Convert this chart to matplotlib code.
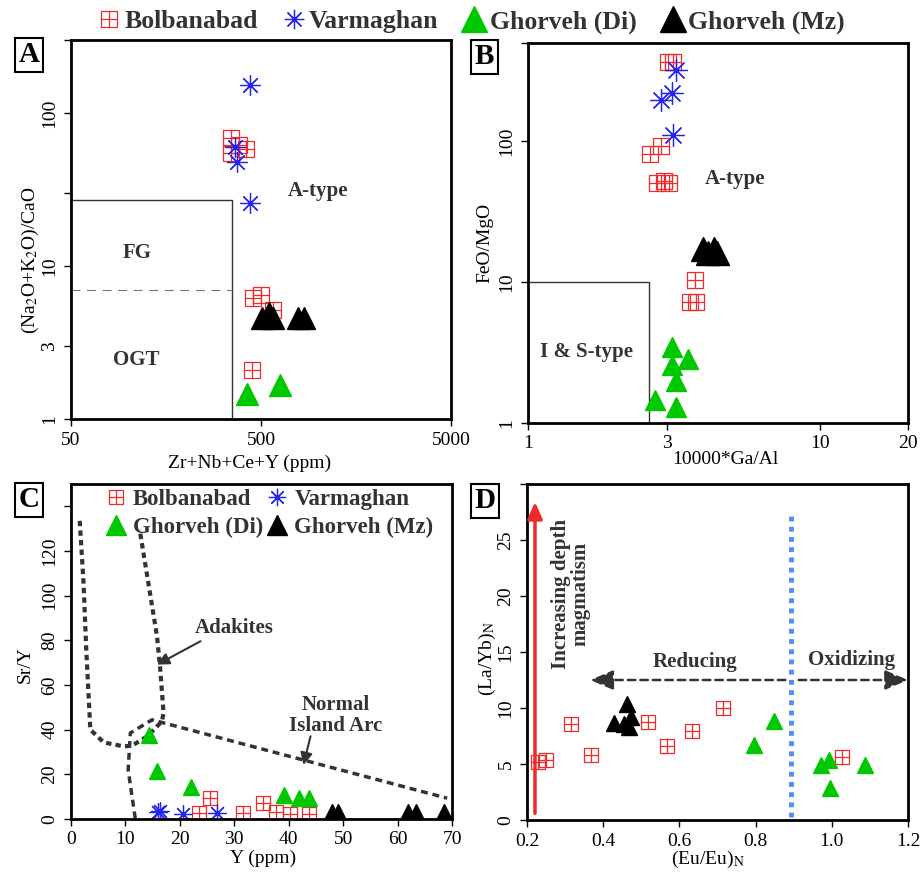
import matplotlib.pyplot as plt
from matplotlib.lines import Line2D
from matplotlib.legend_handler import HandlerTuple
from matplotlib.ticker import NullLocator

plt.rcParams['font.family'] = ['Liberation Serif', 'DejaVu Serif']
plt.rcParams['mathtext.fontset'] = 'stix'

RED = '#ee2a2a'
BLUE = '#2424f0'
GREEN = '#00c800'
BLACK = '#000000'
TXT = '#333333'

groups = ['Bolbanabad', 'Varmaghan', 'Ghorveh (Di)', 'Ghorveh (Mz)']

# A: (Na2O+K2O)/CaO vs Zr+Nb+Ce+Y
a_bol_x = [346, 346, 382, 416, 453, 500, 580, 448]
a_bol_y = [69, 55, 62, 58, 6.2, 6.5, 5.2, 2.1]
a_var_x = [436, 367, 376, 436]
a_var_y = [152, 60, 48, 26]
a_di_x = [422, 627]
a_di_y = [1.46, 1.68]
a_mz_x = [506, 548, 578, 783, 839]
a_mz_y = [4.6, 4.9, 4.6, 4.6, 4.6]
a_box_x = [50, 350, 350]
a_box_y = [27, 27, 1]
a_dash_x = [50, 350]
a_dash_y = [7, 7]

# B: FeO/MgO vs 10000*Ga/Al
b_bol_x = [3.02, 3.14, 2.61, 2.85, 2.76, 2.92, 3.04, 3.73, 3.6, 3.75]
b_bol_y = [366, 366, 81, 92, 51, 52, 51, 10.4, 7.2, 7.2]
b_var_x = [3.22, 3.10, 2.85, 3.13]
b_var_y = [321, 222, 196, 111]
b_di_x = [3.11, 3.54, 3.11, 3.21, 2.73, 3.21]
b_di_y = [3.47, 2.85, 2.56, 1.98, 1.45, 1.29]
b_mz_x = [3.98, 4.34, 4.14, 4.42]
b_mz_y = [17.1, 17.1, 16.0, 16.0]
b_box_x = [1, 2.6, 2.6]
b_box_y = [10, 10, 1]

# C: Sr/Y vs Y
c_bol_x = [25.5, 23.5, 31.6, 35.2, 37.7, 40.3, 43.8]
c_bol_y = [9.3, 2.5, 2.8, 7.0, 3.3, 2.1, 2.1]
c_var_x = [16.0, 16.4, 20.6, 26.9]
c_var_y = [3.2, 3.6, 2.1, 2.5]
c_di_x = [14.3, 15.8, 22.1, 39.1, 41.9, 43.8]
c_di_y = [37.4, 21.7, 14.1, 10.8, 9.3, 9.6]
c_mz_x = [47.9, 49.0, 62.0, 63.3, 68.5]
c_mz_y = [3.3, 3.3, 3.3, 3.3, 3.3]
adakite_x = [1.6, 2.3, 2.8, 3.55, 6.0, 9.7, 11.2, 14.0, 16.7, 17.0, 16.4, 15.8, 14.0, 12.6]
adakite_y = [133.5, 105.8, 75.9, 40, 34.3, 32.5, 32.8, 37, 43.7, 47.4, 66.9, 81.8, 108.8, 129.7]
arc_x = [11.8, 10.5, 10.9, 14.9, 69.1]
arc_y = [0.3, 22, 38.5, 44.4, 9.3]

# D: (La/Yb)N vs (Eu/Eu)N
d_bol_x = [0.228, 0.251, 0.315, 0.368, 0.518, 0.567, 0.633, 0.714, 1.028]
d_bol_y = [5.2, 5.36, 8.57, 5.8, 8.78, 6.64, 7.95, 10.0, 5.65]
d_di_x = [0.849, 0.795, 0.972, 0.992, 0.996, 1.088]
d_di_y = [8.87, 6.7, 4.9, 5.36, 2.9, 4.9]
d_mz_x = [0.462, 0.429, 0.454, 0.473, 0.467]
d_mz_y = [10.4, 8.7, 8.6, 9.2, 8.3]
eu_limit = 0.893


def plot_bol(ax, x, y, ms):
    ax.plot(x, y, ls='none', marker='s', ms=ms, mfc='none', mec=RED, mew=0.9)
    ax.plot(x, y, ls='none', marker='+', ms=ms, mec=RED, mew=0.9)


def plot_var(ax, x, y, ms):
    ax.plot(x, y, ls='none', marker=(8, 2, 0), ms=ms, mec=BLUE, mew=0.9)


def plot_tri(ax, x, y, ms, color):
    ax.plot(x, y, ls='none', marker='^', ms=ms, mfc=color, mec=color)


def style_axes(ax):
    for s in ax.spines.values():
        s.set_linewidth(2)
    ax.tick_params(direction='out', length=5, width=1, labelsize=14, pad=4)
    ax.tick_params(axis='y', labelrotation=90)
    plt.setp(ax.get_yticklabels(), va='center')


def panel_letter(x, y, s):
    fig.text(x / 921, 1 - y / 873, s, ha='center', va='center', fontsize=21,
             fontweight='bold', bbox=dict(boxstyle='square,pad=0.12', fc='white', ec='black', lw=1.5))


fig = plt.figure(figsize=(9.21, 8.73), dpi=100)

# ---------------- A
axA = fig.add_axes([0.0771, 0.52, 0.4126, 0.4341])
axA.set_xscale('log')
axA.set_yscale('log')
axA.set_xlim(50, 5000)
axA.set_ylim(1, 300)
axA.plot(a_box_x, a_box_y, color='#333333', lw=1)
axA.plot(a_dash_x, a_dash_y, color='#777777', lw=0.8, dashes=(8, 6))
plot_bol(axA, a_bol_x, a_bol_y, 11.3)
plot_var(axA, a_var_x, a_var_y, 14.5)
plot_tri(axA, a_di_x, a_di_y, 16, GREEN)
plot_tri(axA, a_mz_x, a_mz_y, 16, BLACK)
axA.text(1000, 31, 'A-type', fontsize=15, fontweight='bold', color=TXT, ha='center', va='center')
axA.text(112, 12.2, 'FG', fontsize=15, fontweight='bold', color=TXT, ha='center', va='center')
axA.text(110, 2.43, 'OGT', fontsize=15, fontweight='bold', color=TXT, ha='center', va='center')
axA.set_xticks([50, 500, 5000])
axA.set_xticklabels(['50', '500', '5000'])
axA.set_yticks([1, 3, 10, 30, 100, 300])
axA.set_yticklabels(['1', '3', '10', '', '100', ''])
axA.xaxis.set_minor_locator(NullLocator())
axA.yaxis.set_minor_locator(NullLocator())
axA.set_xlabel('Zr+Nb+Ce+Y (ppm)', fontsize=14)
axA.set_ylabel('(Na$_2$O+K$_2$O)/CaO', fontsize=14)
axA.xaxis.set_label_coords(0.471, -0.116)
axA.yaxis.set_label_coords(-0.108, 0.42)
style_axes(axA)

# ---------------- B
axB = fig.add_axes([0.5733, 0.5155, 0.4126, 0.4353])
axB.set_xscale('log')
axB.set_yscale('log')
axB.set_xlim(1, 20)
axB.set_ylim(1, 500)
axB.plot(b_box_x, b_box_y, color='#333333', lw=1)
plot_bol(axB, b_bol_x, b_bol_y, 11.5)
plot_var(axB, b_var_x, b_var_y, 16)
plot_tri(axB, b_di_x, b_di_y, 15, GREEN)
plot_tri(axB, b_mz_x, b_mz_y, 17, BLACK)
axB.text(5.1, 54, 'A-type', fontsize=15, fontweight='bold', color=TXT, ha='center', va='center')
axB.text(1.58, 3.2, 'I & S-type', fontsize=15, fontweight='bold', color=TXT, ha='center', va='center')
axB.set_xticks([1, 3, 10, 20])
axB.set_xticklabels(['1', '3', '10', '20'])
axB.set_yticks([1, 10, 100, 500])
axB.set_yticklabels(['1', '10', '100', ''])
axB.xaxis.set_minor_locator(NullLocator())
axB.yaxis.set_minor_locator(NullLocator())
axB.set_xlabel('10000*Ga/Al', fontsize=14)
axB.set_ylabel('FeO/MgO', fontsize=14)
axB.xaxis.set_label_coords(0.518, -0.097)
axB.yaxis.set_label_coords(-0.113, 0.474)
style_axes(axB)

# ---------------- C
axC = fig.add_axes([0.0771, 0.0619, 0.4137, 0.3837])
axC.set_xlim(0, 70)
axC.set_ylim(0, 150)
axC.plot(adakite_x, adakite_y, color='#333333', lw=3, dashes=(1.3, 1.0))
axC.plot(arc_x, arc_y, color='#333333', lw=2.5, dashes=(2.0, 1.4))
plot_bol(axC, c_bol_x, c_bol_y, 9.6)
plot_var(axC, c_var_x, c_var_y, 13)
plot_tri(axC, c_di_x, c_di_y, 11, GREEN)
plot_tri(axC, c_mz_x, c_mz_y, 11, BLACK)
axC.text(29.9, 85.3, 'Adakites', fontsize=15, fontweight='bold', color=TXT, ha='center', va='center')
axC.annotate('', xy=(15.8, 69.1), xytext=(23.8, 79.6),
             arrowprops=dict(arrowstyle='-|>', color='#333333', lw=1.5, mutation_scale=18, shrinkA=0, shrinkB=0))
axC.text(48.6, 46.3, 'Normal\nIsland Arc', fontsize=15, fontweight='bold', color=TXT,
         ha='center', va='center', multialignment='center', linespacing=1.05)
axC.annotate('', xy=(42.7, 24.2), xytext=(44.0, 37.0),
             arrowprops=dict(arrowstyle='-|>', color='#333333', lw=1.5, mutation_scale=18, shrinkA=0, shrinkB=0))
axC.set_xticks(range(0, 71, 10))
axC.set_yticks(range(0, 141, 20))
axC.set_yticklabels(['0', '20', '40', '60', '80', '100', '120', ''])
axC.set_xlabel('Y (ppm)', fontsize=14)
axC.set_ylabel('Sr/Y', fontsize=14)
axC.xaxis.set_label_coords(0.504, -0.118)
axC.yaxis.set_label_coords(-0.12, 0.46)
style_axes(axC)

# ---------------- D
axD = fig.add_axes([0.5722, 0.0607, 0.4137, 0.3849])
axD.set_xlim(0.2, 1.2)
axD.set_ylim(0, 30)
plot_bol(axD, d_bol_x, d_bol_y, 9.6)
plot_tri(axD, d_di_x, d_di_y, 12, GREEN)
plot_tri(axD, d_mz_x, d_mz_y, 12, BLACK)
axD.vlines(eu_limit, 0.3, 27.1, color='#4d8ef7', lw=3.5, linestyles=(0, (1, 1.1)))
axD.annotate('', xy=(0.221, 28.4), xytext=(0.221, 0.6),
             arrowprops=dict(arrowstyle='-|>,head_length=0.45,head_width=0.2', color=RED, lw=2.5,
                             mutation_scale=22, shrinkA=0, shrinkB=0))
axD.annotate('', xy=(0.366, 12.5), xytext=(0.878, 12.5),
             arrowprops=dict(arrowstyle='-|>,head_length=0.7,head_width=0.3', color='#333333', lw=1.8,
                             ls=(0, (3, 2)), mutation_scale=20, shrinkA=0, shrinkB=0))
axD.annotate('', xy=(1.2, 12.5), xytext=(0.913, 12.5),
             arrowprops=dict(arrowstyle='-|>,head_length=0.7,head_width=0.3', color='#333333', lw=1.8,
                             ls=(0, (3, 2)), mutation_scale=20, shrinkA=0, shrinkB=0), annotation_clip=False)
axD.text(0.642, 14.1, 'Reducing', fontsize=15, fontweight='bold', color=TXT, ha='center', va='center')
axD.text(1.053, 14.3, 'Oxidizing', fontsize=15, fontweight='bold', color=TXT, ha='center', va='center')
axD.text(0.315, 20.2, 'Increasing depth\nmagmatism', fontsize=15, fontweight='bold', color=TXT,
         ha='center', va='center', rotation=90, multialignment='center', linespacing=1.0)
axD.set_xticks([0.2, 0.4, 0.6, 0.8, 1.0, 1.2])
axD.set_xticklabels(['0.2', '0.4', '0.6', '0.8', '1.0', '1.2'])
axD.set_yticks(range(0, 31, 5))
axD.set_yticklabels(['0', '5', '10', '15', '20', '25', ''])
axD.set_xlabel('(Eu/Eu)$_{\\mathrm{N}}$', fontsize=14)
axD.set_ylabel('(La/Yb)$_{\\mathrm{N}}$', fontsize=14)
axD.xaxis.set_label_coords(0.475, -0.118)
axD.yaxis.set_label_coords(-0.105, 0.48)
style_axes(axD)

for ax in [axA, axB, axC, axD]:
    ax.xaxis.label.set_va('center')
    ax.yaxis.label.set_va('center')

# legends
def handles(sq, st, tri):
    h_bol = (Line2D([], [], ls='none', marker='s', ms=sq, mfc='none', mec=RED, mew=0.9),
             Line2D([], [], ls='none', marker='+', ms=sq, mec=RED, mew=0.9))
    h_var = Line2D([], [], ls='none', marker=(8, 2, 0), ms=st, mec=BLUE, mew=0.9)
    h_di = Line2D([], [], ls='none', marker='^', ms=tri, mfc=GREEN, mec=GREEN)
    h_mz = Line2D([], [], ls='none', marker='^', ms=tri, mfc=BLACK, mec=BLACK)
    return [h_bol, h_var, h_di, h_mz]


hs = handles(12, 14, 19)
fig.legend(hs, groups, ncol=4, loc='center', bbox_to_anchor=(0.512, 0.975), frameon=False,
           prop={'size': 18.5, 'weight': 'bold'}, labelcolor=TXT, handlelength=0.8,
           handletextpad=0.2, columnspacing=1.0, borderpad=0,
           handler_map={tuple: HandlerTuple(ndivide=1)})

hc = handles(9.5, 12.5, 14.5)
axC.legend([hc[0], hc[2], hc[1], hc[3]], [groups[0], groups[2], groups[1], groups[3]], ncol=2,
           loc='upper left', bbox_to_anchor=(0.097, 0.985), frameon=False,
           prop={'size': 16.5, 'weight': 'bold'}, labelcolor=TXT, handlelength=0.7,
           handletextpad=0.4, columnspacing=0.25, borderpad=0, borderaxespad=0, labelspacing=0.3,
           handler_map={tuple: HandlerTuple(ndivide=1)})

panel_letter(29, 55, 'A')
panel_letter(484.5, 56.5, 'B')
panel_letter(29, 500, 'C')
panel_letter(484.5, 501, 'D')

fig.savefig('out.png', dpi=100)
